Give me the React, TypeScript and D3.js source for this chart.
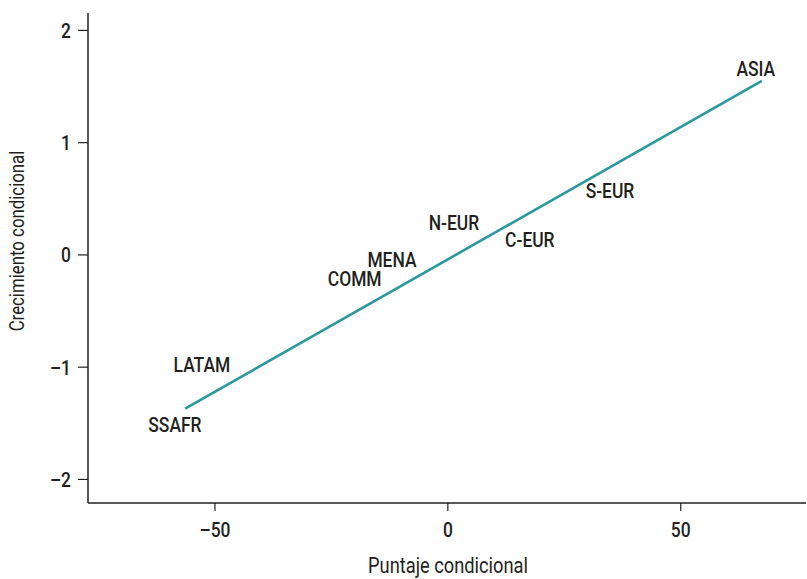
import React from "react";
import * as d3 from "d3";

// Region labels placed at their (conditional score, conditional growth) positions
const regions = ["ASIA", "S-EUR", "N-EUR", "C-EUR", "MENA", "COMM", "LATAM", "SSAFR"];
const scoreValues = [66.1, 34.8, 1.3, 17.6, -12.0, -20.0, -52.8, -58.6];
const growthValues = [1.66, 0.57, 0.29, 0.14, -0.04, -0.21, -0.98, -1.51];

// Fitted line endpoints
const fitScore = [-56.4, 67.4];
const fitGrowth = [-1.37, 1.55];

const xTicks = [-50, 0, 50];
const yTicks = [-2, -1, 0, 1, 2];

const W = 807;
const H = 579;
const FONT = "Roboto, 'Liberation Sans', sans-serif";
const INK = "#231f20";
const SQUEEZE = 0.85; // condensed look

type LabelProps = {
  x: number;
  y: number;
  anchor?: "start" | "middle" | "end";
  weight?: number;
  size?: number;
  rotate?: number;
  dy?: string;
  children: React.ReactNode;
};

function Label({ x, y, anchor = "middle", weight = 500, size = 20.5, rotate = 0, dy, children }: LabelProps) {
  return (
    <text
      transform={`translate(${x},${y}) rotate(${rotate}) scale(${SQUEEZE},1)`}
      textAnchor={anchor}
      fontSize={size}
      fontWeight={weight}
      dy={dy}
      fill={INK}
    >
      {children}
    </text>
  );
}

export default function App() {
  const x = d3.scaleLinear().domain([-77.25, 77.1]).range([88, 807]);
  const y = d3.scaleLinear().domain([-2.21, 2.155]).range([503, 13]);

  const line = d3
    .line<number>()
    .x((_, i) => x(fitScore[i]))
    .y((_, i) => y(fitGrowth[i]));

  const fmt = (v: number) => (v < 0 ? "\u2013" + Math.abs(v) : String(v));

  return (
    <svg
      width={W}
      height={H}
      style={{ position: "absolute", left: 0, top: 0, background: "#fff" }}
      fontFamily={FONT}
    >
      {/* axes */}
      <line x1={88} x2={88} y1={13} y2={503} stroke={INK} strokeWidth={1.5} />
      <line x1={88} x2={806} y1={503} y2={503} stroke={INK} strokeWidth={1.5} />

      {yTicks.map((t) => (
        <g key={"y" + t}>
          <line x1={78} x2={88} y1={y(t)} y2={y(t)} stroke={INK} strokeWidth={1.2} />
          <Label x={71} y={y(t)} dy="0.36em" anchor="end">
            {fmt(t)}
          </Label>
        </g>
      ))}

      {xTicks.map((t) => (
        <g key={"x" + t}>
          <line x1={x(t)} x2={x(t)} y1={503} y2={511} stroke={INK} strokeWidth={1.2} />
          <Label x={x(t)} y={537}>
            {fmt(t)}
          </Label>
        </g>
      ))}

      {/* axis titles */}
      <Label x={448} y={573} weight={400} size={21.5}>
        Puntaje condicional
      </Label>
      <Label x={24} y={241} rotate={-90} weight={400} size={19.8}>
        Crecimiento condicional
      </Label>

      {/* fitted line */}
      <path d={line(fitScore) || ""} fill="none" stroke="#2a98a0" strokeWidth={2.6} />

      {/* region labels */}
      {regions.map((r, i) => (
        <Label key={r} x={x(scoreValues[i])} y={y(growthValues[i])} dy="0.36em">
          {r}
        </Label>
      ))}
    </svg>
  );
}
